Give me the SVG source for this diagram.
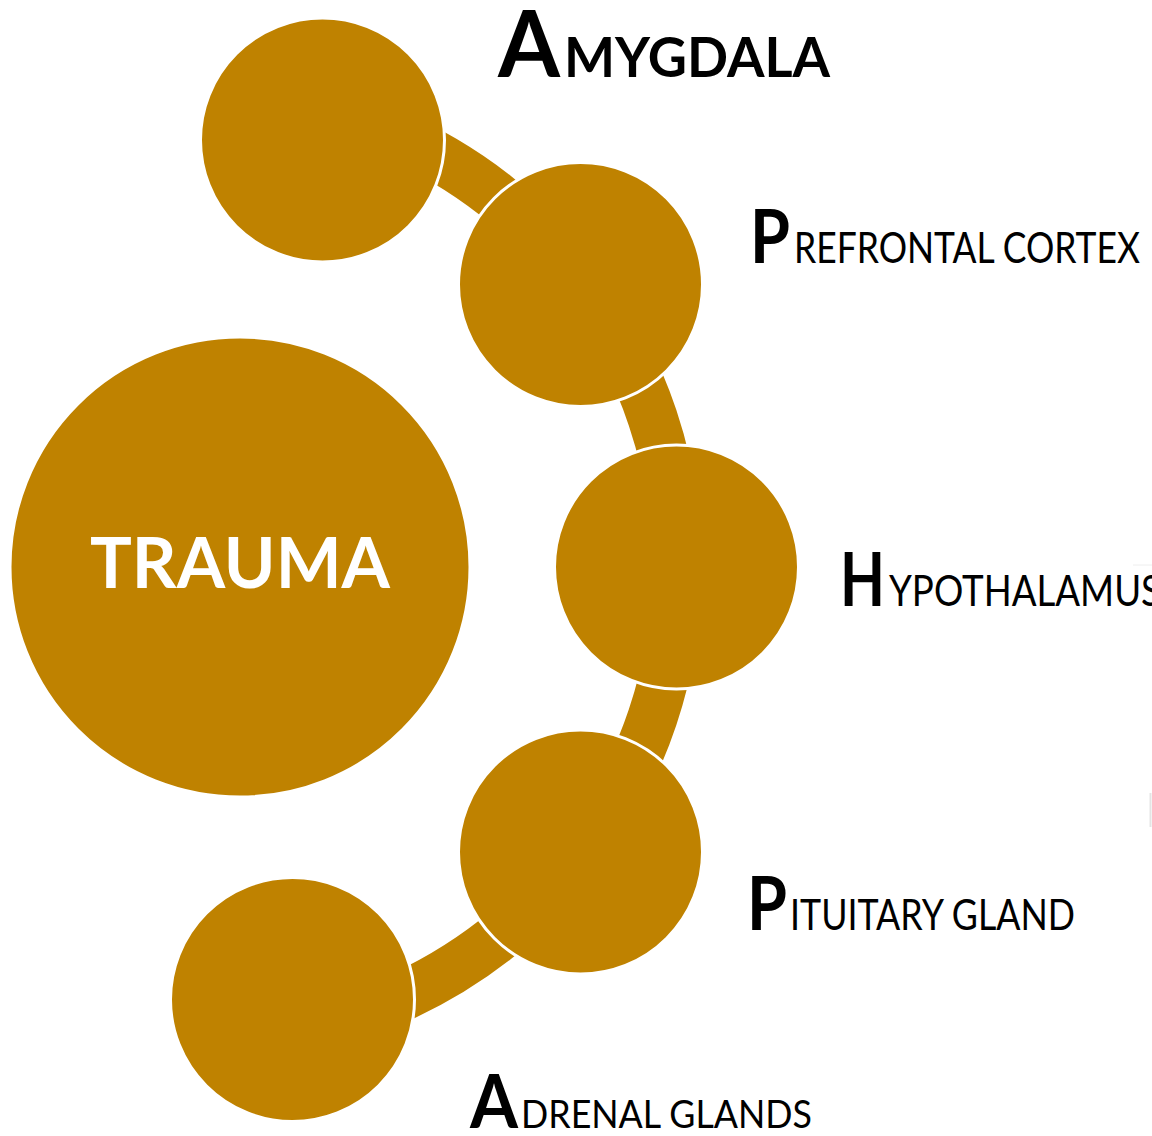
<svg xmlns="http://www.w3.org/2000/svg" width="1152" height="1136" viewBox="0 0 1152 1136">
<style>
.node{fill:#BF8200;stroke:#FFFFFF;stroke-width:3}
.band{fill:none;stroke:#BF8200;stroke-width:50;stroke-linecap:butt}
.big{font-family:Lato,"Liberation Sans",sans-serif;font-weight:bold;fill:#000}
.sc{font-family:Lato,"Liberation Sans",sans-serif;fill:#000}
.scb{font-family:Lato,"Liberation Sans",sans-serif;font-weight:bold;fill:#000}
.center{font-family:Lato,"Liberation Sans",sans-serif;font-weight:bold;fill:#FFF}
</style>
<rect width="1152" height="1136" fill="#FFFFFF"/>
<g id="connectors">
<path class="band" d="M389.4 133 A472 472 0 0 1 581.9 283.5"/>
<path class="band" d="M581.9 283.5 A472 472 0 0 1 677 567.5"/>
<path class="band" d="M677 567.5 A472 472 0 0 1 581.9 851.5"/>
<path class="band" d="M581.9 851.5 A472 472 0 0 1 389.4 1002"/>
</g>
<g id="trauma">
<circle class="node" cx="240" cy="567" r="230"/>
<text class="center" x="90" y="588" font-size="71" textLength="300" lengthAdjust="spacingAndGlyphs">TRAUMA</text>
</g>
<g id="amygdala">
<circle class="node" cx="322.5" cy="140" r="122"/>
<text class="big" x="498" y="77" font-size="91" textLength="62" lengthAdjust="spacingAndGlyphs">A</text>
<text class="scb" x="564" y="77" font-size="56" textLength="266" lengthAdjust="spacingAndGlyphs">MYGDALA</text>
</g>
<g id="prefrontal">
<circle class="node" cx="580.5" cy="284.5" r="122"/>
<text class="big" x="750" y="263" font-size="75" textLength="40" lengthAdjust="spacingAndGlyphs">P</text>
<text class="sc" x="794" y="263" font-size="42" textLength="346" lengthAdjust="spacingAndGlyphs">REFRONTAL CORTEX</text>
</g>
<g id="hypothalamus">
<circle class="node" cx="676.5" cy="567" r="122"/>
<text class="big" x="840" y="606" font-size="75" textLength="45" lengthAdjust="spacingAndGlyphs">H</text>
<text class="sc" x="889" y="606" font-size="42" textLength="272" lengthAdjust="spacingAndGlyphs">YPOTHALAMUS</text>
</g>
<g id="pituitary">
<circle class="node" cx="580.5" cy="852" r="122"/>
<text class="big" x="747" y="930" font-size="75" textLength="40" lengthAdjust="spacingAndGlyphs">P</text>
<text class="sc" x="790" y="930" font-size="42" textLength="285" lengthAdjust="spacingAndGlyphs">ITUITARY GLAND</text>
</g>
<g id="adrenal">
<circle class="node" cx="292.5" cy="999.5" r="122"/>
<text class="big" x="470" y="1128" font-size="75" textLength="48" lengthAdjust="spacingAndGlyphs">A</text>
<text class="sc" x="521" y="1128" font-size="38" textLength="291" lengthAdjust="spacingAndGlyphs">DRENAL GLANDS</text>
</g>
<line x1="1133" y1="565" x2="1152" y2="565" stroke="#EEEEEE" stroke-width="1"/>
<line x1="1150.5" y1="793" x2="1150.5" y2="827" stroke="#E4E4E4" stroke-width="2"/>
</svg>
